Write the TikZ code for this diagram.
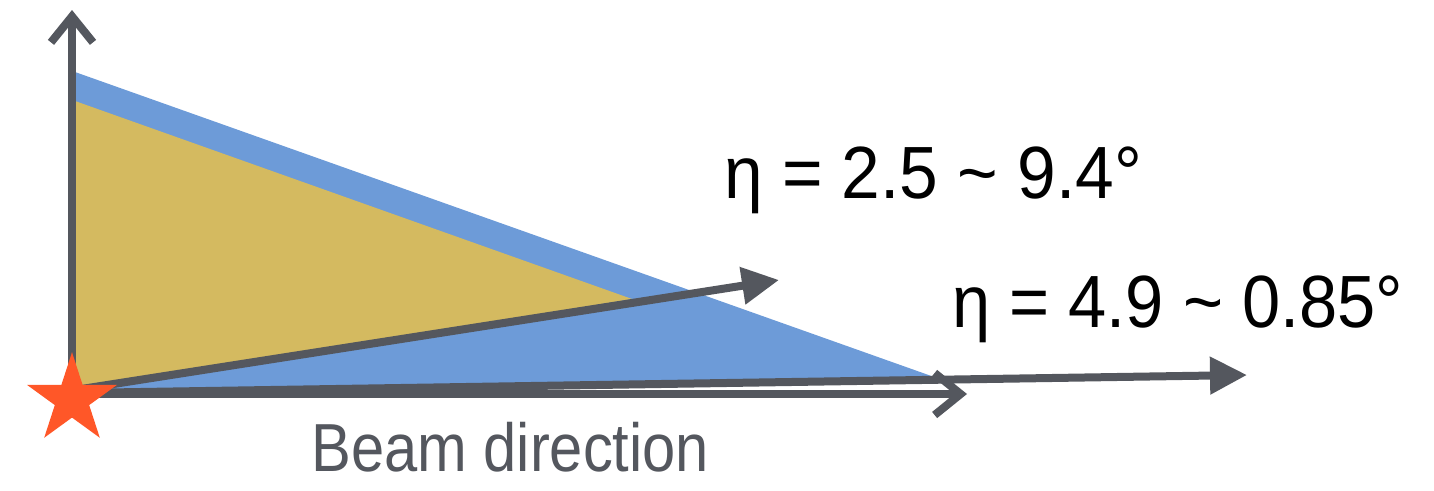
\documentclass[tikz,border=0pt]{standalone}
\usepackage{fontspec}
\setmainfont{Liberation Sans}
\usepackage{graphicx}
\usetikzlibrary{arrows.meta,shapes.geometric}
\definecolor{axisgray}{RGB}{84,87,94}
\definecolor{coneblue}{RGB}{109,155,216}
\definecolor{coneyellow}{RGB}{212,186,96}
\definecolor{starorange}{RGB}{255,87,40}
\newsavebox\fitbox
\newdimen\fitdim
\newcommand\fitw[2]{\sbox\fitbox{#2}\fitdim=\wd\fitbox\pgfmathsetmacro\fitr{#1/\fitdim}\scalebox{\fitr}[1]{\usebox\fitbox}}
\tikzset{
  axisline/.style={draw=axisgray, line width=8pt, -{Straight Barb[length=26pt,width=42pt]}},
  etaline/.style={draw=axisgray, line width=8pt, -{Triangle[length=37pt,width=36pt]}},
  label/.style={inner sep=0pt, anchor=base west},
}
\begin{document}
\begin{tikzpicture}[x=1pt,y=-1pt]
\useasboundingbox (0,0) rectangle (1434,490);
% key coordinates
\coordinate (O) at (72,394);
\coordinate (Ytip) at (72,10);
\coordinate (Xtip) at (967,394);
\coordinate (E1s) at (75,390);
\coordinate (E1t) at (779,280);
\coordinate (E2s) at (75,393);
\coordinate (E2t) at (1247,375);
% cones
\fill[coneblue] (75,72) -- (937,378) -- (75,393) -- cycle;
\fill[coneyellow] (75,101) -- (632,299) -- (75,390) -- cycle;
% eta lines
\draw[etaline] (E2s) -- (E2t);
\draw[etaline] (E1s) -- (E1t);
% axes
\draw[axisline] (O) -- (Ytip);
\draw[axisline] (O) -- (Xtip);
% star
\node[star, star points=5, star point ratio=2.618, minimum size=94.6pt, inner sep=0pt, fill=starorange] (star) at (72,399.5) {};
% labels
\node[label, font=\fontsize{74}{80}\selectfont] (t1) at (724,198) {\fitw{418pt}{η = 2.5 \textasciitilde{} 9.4°}};
\node[label, font=\fontsize{74}{80}\selectfont] (t2) at (952,327) {\fitw{451pt}{η = 4.9 \textasciitilde{} 0.85°}};
\node[label, font=\fontsize{68}{74}\selectfont, text=axisgray] (t3) at (311,471) {\fitw{398pt}{Beam direction}};
\end{tikzpicture}
\end{document}
